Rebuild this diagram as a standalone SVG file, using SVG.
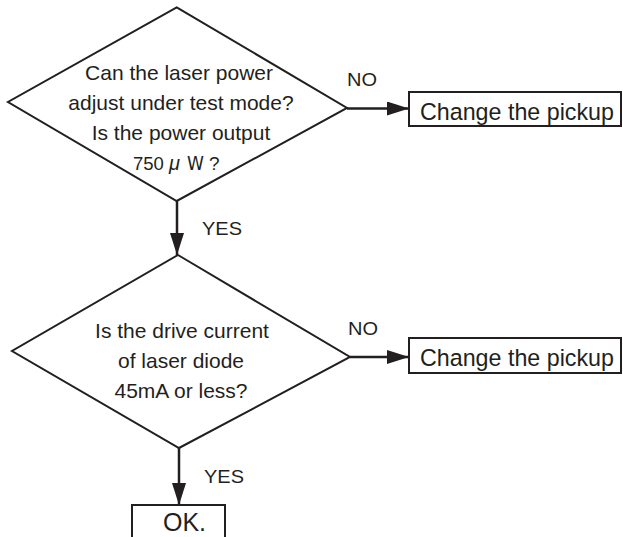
<svg xmlns="http://www.w3.org/2000/svg" width="623" height="537" viewBox="0 0 623 537">
<style>
.shape{fill:#fff;stroke:#231f20;stroke-width:2}
.line{fill:none;stroke:#231f20;stroke-width:2.5}
.t{font-family:"Liberation Sans",Arial,sans-serif;fill:#231f20}
.q{font-size:21px;text-anchor:middle}
.lbl{font-size:18px}
.box{font-size:24.5px}
</style>
<defs>
<marker id="ah" markerWidth="22" markerHeight="14" refX="22" refY="7" orient="auto" markerUnits="userSpaceOnUse">
<path d="M0,0 L22,7 L0,14 Z" fill="#231f20"/>
</marker>
</defs>
<rect width="623" height="537" fill="#fff"/>
<g id="connectors">
<line class="line" x1="347" y1="108.5" x2="409" y2="108.5" marker-end="url(#ah)"/>
<line class="line" x1="177" y1="201" x2="177" y2="255" marker-end="url(#ah)"/>
<line class="line" x1="350" y1="357" x2="409" y2="357" marker-end="url(#ah)"/>
<line class="line" x1="179" y1="448" x2="179" y2="505" marker-end="url(#ah)"/>
<text class="t lbl" x="347" y="86" textLength="30" lengthAdjust="spacingAndGlyphs">NO</text>
<text class="t lbl" x="202" y="235" textLength="40" lengthAdjust="spacingAndGlyphs">YES</text>
<text class="t lbl" x="348" y="335" textLength="30" lengthAdjust="spacingAndGlyphs">NO</text>
<text class="t lbl" x="204" y="483" textLength="40" lengthAdjust="spacingAndGlyphs">YES</text>
</g>
<g id="decision1">
<polygon class="shape" points="176.7,7.3 347,108 176.7,201 8,102"/>
<text class="t q" x="179" y="80">Can the laser power</text>
<text class="t q" x="181" y="110">adjust under test mode?</text>
<text class="t q" x="181" y="140">Is the power output</text>
<text class="t" y="170" font-size="18.5"><tspan x="133">750</tspan><tspan x="169" font-style="italic" font-size="20">μ</tspan><tspan x="187" font-family="'DejaVu Sans Condensed',sans-serif" font-size="19">W</tspan><tspan x="209" font-size="19">?</tspan></text>
</g>
<g id="pickup1">
<rect class="shape" x="409" y="92" width="212" height="34"/>
<text class="t box" x="420" y="120" textLength="194" lengthAdjust="spacingAndGlyphs">Change the pickup</text>
</g>
<g id="decision2">
<polygon class="shape" points="178,255 350,357 179,448 12,351"/>
<text class="t q" x="182" y="338">Is the drive current</text>
<text class="t q" x="181" y="368">of laser diode</text>
<text class="t q" x="181" y="398">45mA or less?</text>
</g>
<g id="pickup2">
<rect class="shape" x="409" y="338" width="212" height="35"/>
<text class="t box" x="420" y="366" textLength="194" lengthAdjust="spacingAndGlyphs">Change the pickup</text>
</g>
<g id="ok">
<rect class="shape" x="132" y="505" width="93" height="40"/>
<text class="t" x="163" y="531" font-size="25">OK.</text>
</g>
</svg>
